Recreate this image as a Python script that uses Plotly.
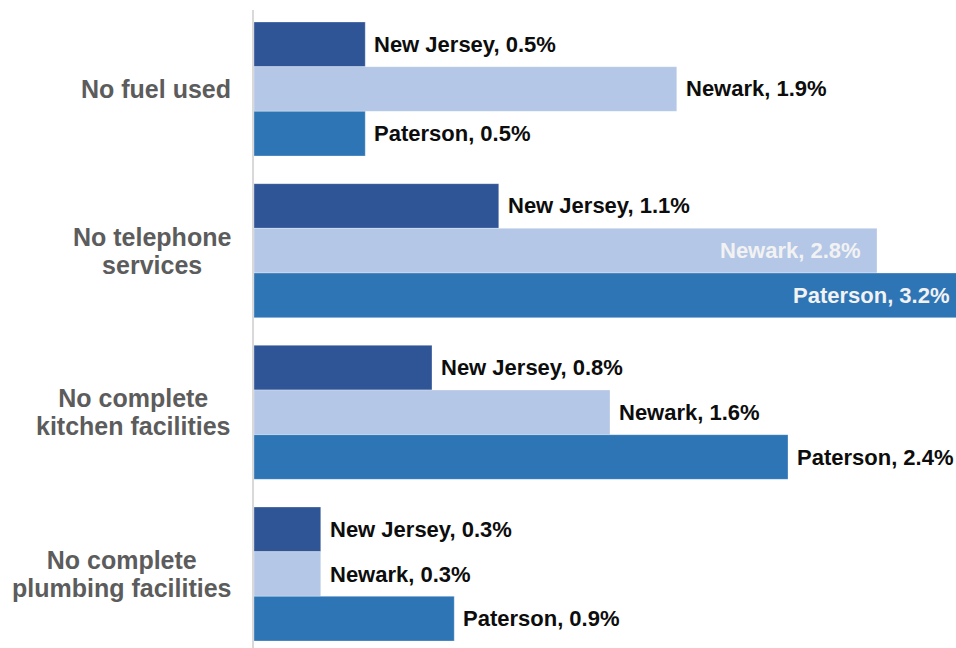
import plotly.graph_objects as go

categories = ["No fuel used", "No telephone<br>services",
              "No complete<br>kitchen facilities", "No complete<br>plumbing facilities"]
series_names = ["New Jersey", "Newark", "Paterson"]
nj_values = [0.5, 1.1, 0.8, 0.3]
newark_values = [1.9, 2.8, 1.6, 0.3]
paterson_values = [0.5, 3.2, 2.4, 0.9]
series_values = [nj_values, newark_values, paterson_values]
colors = ["#2F5597", "#B4C7E7", "#2E75B6"]

W, H = 956, 648
ML, MR, MT, MB = 254, 0, 10, 0
XMAX = 3.155
Y_RANGE = [3.4577, -0.4886]
BARGAP = 0.171
INSIDE_THRESHOLD = 2.5

plot_w = W - ML - MR
plot_h = H - MT - MB
px_per_x = plot_w / XMAX
px_per_cat = plot_h / (Y_RANGE[0] - Y_RANGE[1])
bar_px = (1 - BARGAP) / len(series_names) * px_per_cat

cat_keys = [c.replace("<br>", " ") for c in categories]

fig = go.Figure()
for name, vals, col in zip(series_names, series_values, colors):
    fig.add_trace(go.Bar(
        y=cat_keys, x=vals, name=name, orientation="h",
        marker=dict(color=col, line=dict(color="rgba(255,255,255,0.6)", width=0.5)),
        hoverinfo="skip",
    ))

annotations = []
# bar value labels
for i, (name, vals) in enumerate(zip(series_names, series_values)):
    yshift = -(i - (len(series_names) - 1) / 2) * bar_px
    for cat, v in zip(cat_keys, vals):
        label = f"<b>{name}, {v:.1f}%</b>"
        if v > INSIDE_THRESHOLD:
            xa = min(v, XMAX)
            xs = -14 + (v - xa) * px_per_x
            annotations.append(dict(
                x=xa, y=cat, xref="x", yref="y", text=label, showarrow=False,
                xanchor="right", yanchor="middle", xshift=xs, yshift=yshift,
                font=dict(family="Liberation Sans", size=22, color="#F2F2F2"),
            ))
        else:
            annotations.append(dict(
                x=v, y=cat, xref="x", yref="y", text=label, showarrow=False,
                xanchor="left", yanchor="middle", xshift=7, yshift=yshift,
                font=dict(family="Liberation Sans", size=22, color="#0D0D0D"),
            ))

# category labels
for cat, txt in zip(cat_keys, categories):
    lines = txt.split("<br>")
    styled = "<br>".join(f"<span style='font-size:25px'><b>{ln}</b></span>" for ln in lines)
    annotations.append(dict(
        x=0, y=cat, xref="paper", yref="y", text=styled, showarrow=False,
        xanchor="right", yanchor="middle", xshift=-21, align="center",
        font=dict(family="Liberation Sans", size=21.5, color="#5C5C5C"),
    ))

fig.update_layout(
    width=W, height=H,
    margin=dict(l=ML, r=MR, t=MT, b=MB, pad=0),
    barmode="group", bargap=BARGAP, bargroupgap=0,
    plot_bgcolor="white", paper_bgcolor="white",
    showlegend=False,
    annotations=annotations,
    xaxis=dict(range=[0, XMAX], showgrid=False, zeroline=False,
               showticklabels=False, ticks="", showline=False, fixedrange=True),
    yaxis=dict(range=Y_RANGE, type="category", showgrid=False, zeroline=False,
               showticklabels=False, ticks="", showline=True,
               linecolor="#D9D9D9", linewidth=2, fixedrange=True),
)

fig.write_html("out.html", config={"displayModeBar": False})
